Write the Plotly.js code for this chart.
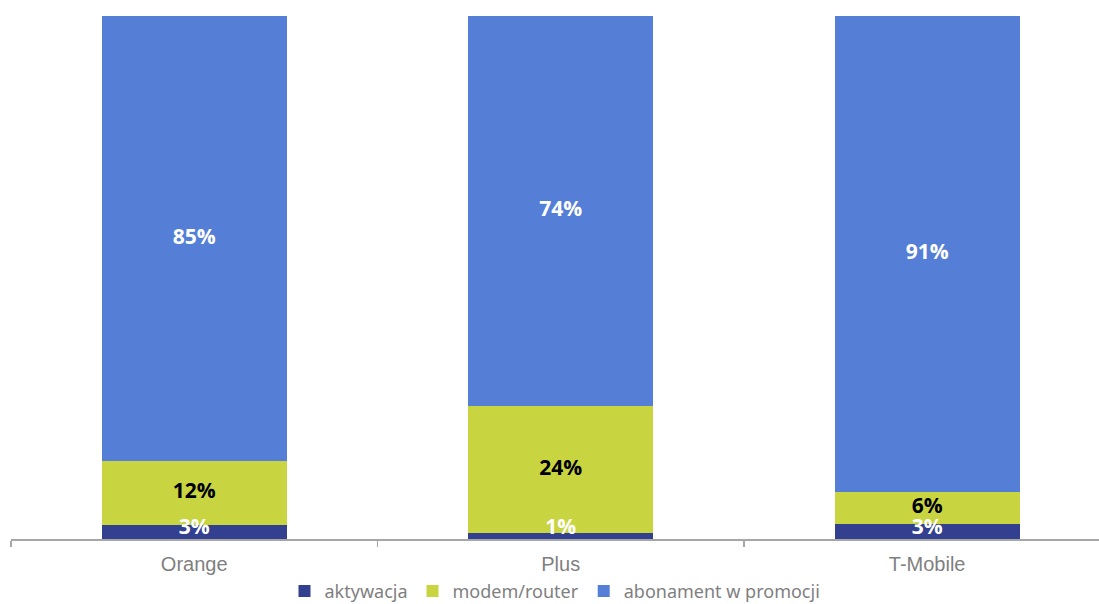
<!DOCTYPE html>
<html>
<head>
<meta charset="utf-8">
<script src="https://cdn.plot.ly/plotly-3.0.1.min.js"></script>
<style>html,body{margin:0;padding:0;background:#fff;}#chart{width:1099px;height:604px;}</style>
</head>
<body>
<div id="chart"></div>
<script>
const categories = ["Orange", "Plus", "T-Mobile"];
const seriesNames = ["aktywacja", "modem/router", "abonament w promocji"];
// values (labels are these values rounded)
const aktywacja = [2.6, 1.1, 2.9];
const modemRouter = [12.3, 24.4, 6.1];
const abonament = [85.1, 74.4, 91.0];

const colors = ["#333F8F", "#C8D541", "#557FD6"];
const textColors = ["#FFFFFF", "#000000", "#FFFFFF"];
const allValues = [aktywacja, modemRouter, abonament];

const barTraces = allValues.map((vals, i) => ({
  type: "bar",
  name: seriesNames[i],
  x: categories,
  y: vals,
  width: 0.505,
  marker: {color: colors[i], line: {width: 0}},
  hoverinfo: "skip"
}));

// label positions: centre of each normalized segment, kept a bit above the axis
const totals = categories.map((c, j) => allValues.reduce((s, a) => s + a[j], 0));
const labelTraces = allValues.map((vals, i) => ({
  type: "scatter",
  mode: "text",
  x: categories,
  y: vals.map((v, j) => {
    let below = 0;
    for (let k = 0; k < i; k++) below += allValues[k][j];
    const centre = (below + v / 2) / totals[j] * 100;
    return Math.max(centre, 2.0);
  }),
  text: vals.map(v => Math.round(v) + "%"),
  textposition: "middle center",
  textfont: {family: "Open Sans", size: 21, weight: "bold", color: textColors[i]},
  showlegend: false,
  hoverinfo: "skip",
  cliponaxis: false
}));

const layout = {
  width: 1099,
  height: 604,
  margin: {l: 11, r: 0, t: 16, b: 65},
  paper_bgcolor: "#FFFFFF",
  plot_bgcolor: "#FFFFFF",
  barmode: "stack",
  barnorm: "percent",
  showlegend: true,
  legend: {
    orientation: "h",
    x: 0.5, xanchor: "center", xref: "paper",
    yref: "container",
    y: 0.021, yanchor: "middle",
    font: {family: "Noto Sans", size: 18, color: "#7F7F7F"},
    itemwidth: 30,
    traceorder: "normal"
  },
  xaxis: {
    type: "category",
    range: [-0.5, 2.469],
    automargin: false,
    showline: true,
    linecolor: "#A6A6A6",
    linewidth: 1.5,
    ticks: "outside",
    tickson: "boundaries",
    ticklen: 6,
    tickcolor: "#A6A6A6",
    tickwidth: 1.5,
    ticklabelstandoff: 6,
    showgrid: false,
    zeroline: false,
    tickfont: {family: "Liberation Sans", size: 20, color: "#7F7F7F"}
  },
  yaxis: {
    range: [0, 100],
    visible: false,
    automargin: false,
    showgrid: false,
    zeroline: false
  }
};

Plotly.newPlot("chart", barTraces.concat(labelTraces), layout, {displayModeBar: false, staticPlot: true});
</script>
</body>
</html>
